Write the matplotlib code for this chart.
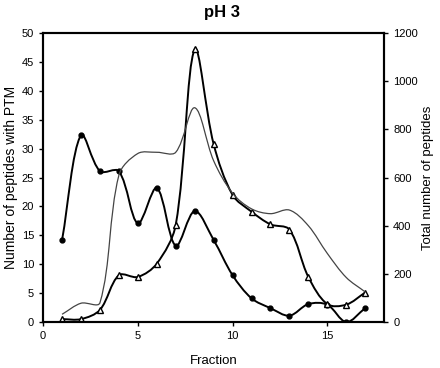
import matplotlib
matplotlib.use("Agg")
import matplotlib.pyplot as plt
import numpy as np
from matplotlib.path import Path
from matplotlib.patches import PathPatch

plt.rcParams["font.family"] = ["Liberation Sans", "DejaVu Sans"]

#data
fraction = list(range(1, 18))
ptm_circles = [14.2, 32.4, 26.1, 26.1, 17.1, 23.2, 13.2, 19.2, 14.2, 8.1, 4.1, 2.4, 1.1, 3.1, 3.0, 0.0, 2.4]
ptm_triangles = [0.5, 0.5, 2.1, 8.1, 7.8, 10.1, 16.8, 47.2, 30.8, 22.0, 19.1, 16.9, 16.0, 7.8, 3.1, 3.0, 5.1]
total_peptides = [32, 78, 80, 610, 700, 705, 705, 890, 670, 535, 470, 450, 465, 400, 285, 185, 125]


def smooth_line(a, x, y, **kw):
    #excel-like smoothed line, bezier control points weighted by screen distance
    tr = a.transData
    pts = tr.transform(np.column_stack([x, y]).astype(float))
    n = len(pts)
    verts = [pts[0]]
    codes = [Path.MOVETO]
    for i in range(n - 1):
        p0 = pts[i - 1] if i > 0 else pts[i]
        p1 = pts[i]
        p2 = pts[i + 1]
        p3 = pts[i + 2] if i + 2 < n else pts[i + 1]
        d01 = np.hypot(*(p1 - p0))
        d12 = np.hypot(*(p2 - p1))
        d23 = np.hypot(*(p3 - p2))
        w1 = d12 / (d01 + d12) if d01 + d12 > 0 else 0.5
        w2 = d12 / (d12 + d23) if d12 + d23 > 0 else 0.5
        c1 = p1 + (p2 - p0) * w1 / 3.0
        c2 = p2 - (p3 - p1) * w2 / 3.0
        verts += [c1, c2, p2]
        codes += [Path.CURVE4] * 3
    verts = tr.inverted().transform(np.array(verts))
    a.add_patch(PathPatch(Path(verts, codes), fill=False, **kw))


fig = plt.figure(figsize=(4.4, 3.68), dpi=100)
ax = fig.add_axes([0.098, 0.125, 0.775, 0.785])
ax2 = ax.twinx()

ax.set_xlim(0, 18)
ax.set_ylim(0, 50)
ax2.set_ylim(0, 1200)

smooth_line(ax, fraction, ptm_circles, lw=1.4, color="black")
ax.plot(fraction, ptm_circles, ls="none", marker="o", ms=3.5, color="black")

smooth_line(ax2, fraction, total_peptides, lw=0.9, color="#444444")

smooth_line(ax, fraction, ptm_triangles, lw=1.4, color="black")
ax.plot(fraction, ptm_triangles, ls="none", marker="^", ms=5, mfc="white", mec="black", mew=1.0)

ax.set_xticks([0, 5, 10, 15])
ax.set_yticks(range(0, 51, 5))
ax2.set_yticks(range(0, 1201, 200))

for a in (ax, ax2):
    for s in a.spines.values():
        s.set_linewidth(1.5)
    a.tick_params(labelsize=8, length=3, width=1)

ax.set_xlabel("Fraction", fontsize=9.5, labelpad=10)
ax.set_ylabel("Number of peptides with PTM", fontsize=10, labelpad=3)
ax2.set_ylabel("Total number of peptides", fontsize=9.5, labelpad=3)
fig.text(0.505, 0.967, "pH 3", ha="center", va="center", fontsize=12, fontweight="bold")

fig.savefig("out.png", dpi=100)
